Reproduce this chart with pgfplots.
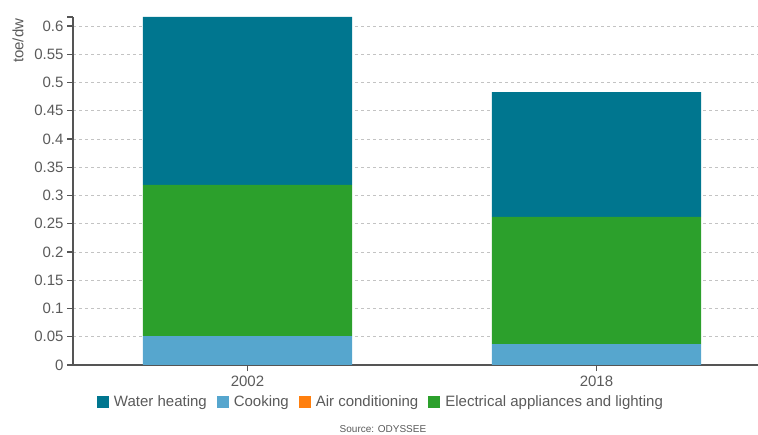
\documentclass[border=0pt]{standalone}
\usepackage{pgfplots}
\pgfplotsset{compat=1.18}
\usepackage{fontspec}
\setmainfont{Liberation Sans}
\definecolor{waterc}{RGB}{0,118,143}
\definecolor{cookc}{RGB}{86,166,206}
\definecolor{airc}{RGB}{255,127,14}
\definecolor{elecc}{RGB}{44,160,44}
\definecolor{txt}{RGB}{90,90,90}
\definecolor{axc}{RGB}{85,85,85}
\definecolor{gridc}{RGB}{195,195,195}
\begin{document}
\begin{tikzpicture}
\useasboundingbox (0,0) rectangle (758bp,435bp);
\begin{axis}[
  at={(73bp,70bp)}, anchor=south west,
  scale only axis, width=685bp, height=348bp,
  ybar stacked, bar width=0.6,
  xmin=-0.5, xmax=1.463, ymin=0, ymax=0.616,
  xtick={0,1}, xticklabels={2002,2018},
  ytick={0,0.05,0.1,0.15,0.2,0.25,0.3,0.35,0.4,0.45,0.5,0.55,0.6},
  scaled y ticks=false,
  yticklabel style={/pgf/number format/fixed, /pgf/number format/precision=2},
  /pgf/number format/assume math mode=true,
  ticklabel style={font=\fontsize{15bp}{18bp}\selectfont, text=txt},
  xticklabel style={yshift=-1.5bp},
  axis lines*=left,
  axis line style={axc, line width=1.5bp},
  tick style={axc, line width=1.2bp},
  major tick length=6bp, tick align=outside,
  ymajorgrids,
  grid style={gridc, line width=1bp, dash pattern=on 3bp off 3bp},
  extra y ticks={0.616}, extra y tick labels={},
  extra y tick style={grid=none},
  ylabel={toe/dw},
  ylabel style={at={(axis description cs:-0.0803,1.005)}, anchor=east, font=\fontsize{15bp}{18bp}\selectfont, text=txt},
  legend style={at={(axis description cs:0.4496,-0.106)}, anchor=center, draw=none, fill=none,
    font=\fontsize{15bp}{18bp}\selectfont, text=txt,
    /tikz/every odd column/.append style={column sep=3bp},
    /tikz/every even column/.append style={column sep=8bp}},
  legend columns=-1,
  legend image code/.code={\fill[#1] (0bp,-6bp) rectangle (12bp,6bp);},
]
\addlegendimage{fill=waterc, draw=none}
\addlegendimage{fill=cookc, draw=none}
\addlegendimage{fill=airc, draw=none}
\addlegendimage{fill=elecc, draw=none}
\legend{Water heating, Cooking, Air conditioning, Electrical appliances and lighting}
\addplot[fill=cookc, draw=none] coordinates {(0,0.051) (1,0.037)};
\addplot[fill=airc, draw=none] coordinates {(0,0) (1,0)};
\addplot[fill=elecc, draw=none] coordinates {(0,0.268) (1,0.225)};
\addplot[fill=waterc, draw=none] coordinates {(0,0.297) (1,0.221)};
\end{axis}
\node[font=\fontsize{10bp}{12bp}\selectfont, text=txt, anchor=base] at (383bp,2.5bp) {Source: ODYSSEE};
\end{tikzpicture}
\end{document}
